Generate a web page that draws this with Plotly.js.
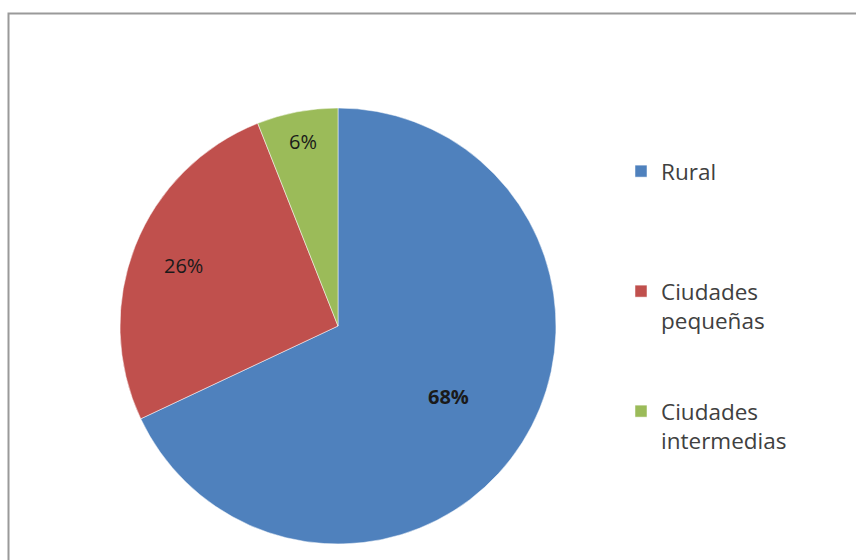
<!DOCTYPE html>
<html>
<head>
<meta charset="utf-8">
<script src="https://cdn.plot.ly/plotly-3.0.1.min.js"></script>
<style>html,body{margin:0;padding:0;background:#fff;}#chart{width:856px;height:560px;}</style>
</head>
<body>
<div id="chart"></div>
<script>
const categories = ['Rural', 'Ciudades pequeñas', 'Ciudades intermedias'];
const values = [68, 26, 6];
const colors = ['#4f81bd', '#c0504d', '#9bbb59'];

const W = 856, H = 560;
// legend display text (wrapped, padded to spread items vertically)
const legendText = categories.map(function (c) {
  const words = c.split(' ');
  const lines = words.length > 1 ? [words[0], words.slice(1).join(' ')] : [words[0]];
  while (lines.length < 4) lines.push('&nbsp;');
  return lines.join('<br>');
});

const cx = 338, cy = 326, R = 218;

const trace = {
  type: 'pie',
  labels: legendText,
  values: values,
  sort: false,
  direction: 'clockwise',
  rotation: 0,
  marker: {colors: colors, line: {color: '#ffffff', width: 0.5}},
  textinfo: 'none',
  hoverinfo: 'label+percent',
  domain: {x: [(cx - R) / W, (cx + R) / W], y: [(H - cy - R) / H, (H - cy + R) / H]},
  showlegend: true
};

// data labels placed at each slice's mid-angle (computed from the values)
const total = values.reduce(function (a, b) { return a + b; }, 0);
const labelRadius = [0.6, 0.76, 0.86];
let cum = 0;
const annotations = values.map(function (v, i) {
  const mid = (cum + v / 2) / total * 2 * Math.PI;
  cum += v;
  const r = R * labelRadius[i];
  const px = cx + r * Math.sin(mid);
  const py = cy - r * Math.cos(mid);
  const pct = Math.round(v / total * 100) + '%';
  return {
    xref: 'paper', yref: 'paper', x: px / W, y: 1 - py / H,
    text: i === 0 ? '<b>' + pct + '</b>' : pct,
    showarrow: false, xanchor: 'center', yanchor: 'middle',
    font: {family: 'Open Sans, sans-serif', size: 20, color: '#1a1a1a'}
  };
});

const layout = {
  width: W, height: H,
  margin: {l: 0, r: 0, t: 0, b: 0},
  paper_bgcolor: '#ffffff',
  showlegend: true,
  legend: {
    x: 621 / W, xanchor: 'left',
    y: 1 - 150 / H, yanchor: 'top',
    valign: 'top',
    font: {family: 'Open Sans, sans-serif', size: 22.5, color: '#404040'},
    bgcolor: 'rgba(0,0,0,0)',
    itemclick: false
  },
  annotations: annotations,
  shapes: [{
    type: 'rect', xref: 'paper', yref: 'paper',
    x0: 8.5 / W, x1: 1.02, y0: -0.02, y1: 1 - 13.5 / H,
    line: {color: '#9a9a9a', width: 2}, fillcolor: 'rgba(0,0,0,0)', layer: 'below'
  }]
};

Plotly.newPlot('chart', [trace], layout, {displayModeBar: false, staticPlot: true});
</script>
</body>
</html>
